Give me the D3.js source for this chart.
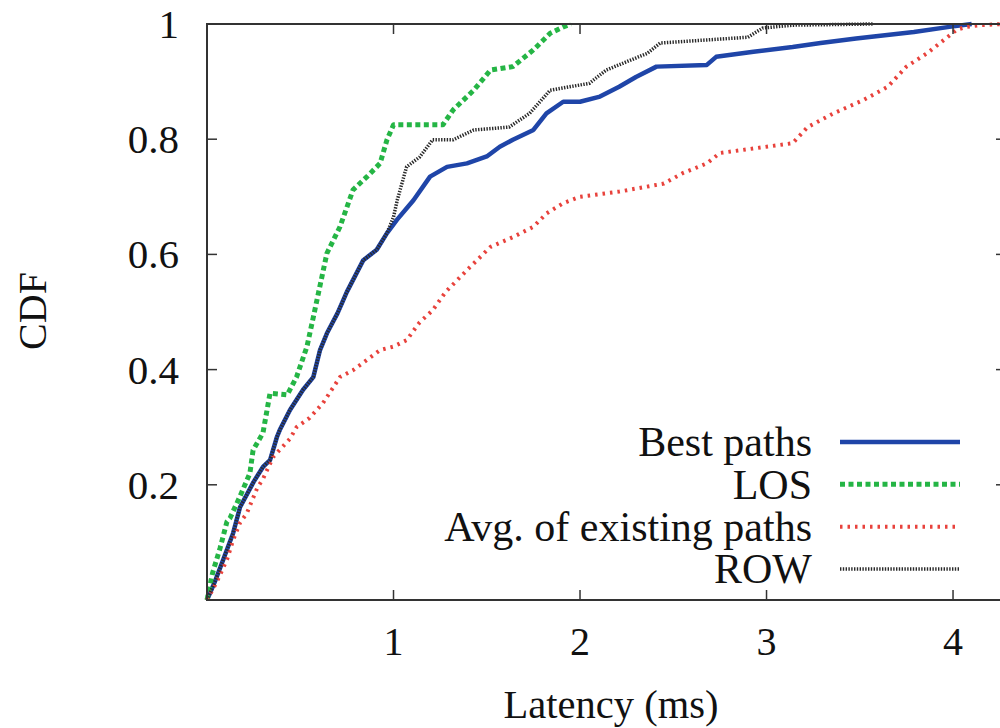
<!DOCTYPE html>
<html>
<head>
<meta charset="utf-8">
<script src="https://cdn.jsdelivr.net/npm/d3@7"></script>
<style>
  html, body { margin: 0; padding: 0; background: #fff; }
  svg text { font-family: "Liberation Serif", "DejaVu Serif", serif; fill: #111; }
</style>
</head>
<body>
<svg id="chart" width="1000" height="728"></svg>
<script>
// --- 0. Data (latency in ms, CDF) ---
const seriesNames = ["Best paths", "LOS", "Avg. of existing paths", "ROW"];

const bestPaths = [
  [0, 0], [0.04, 0.03], [0.08, 0.064], [0.14, 0.116], [0.177, 0.161], [0.25, 0.205],
  [0.3, 0.231], [0.338, 0.243], [0.375, 0.283], [0.39, 0.295], [0.445, 0.33],
  [0.515, 0.365], [0.57, 0.387], [0.606, 0.434], [0.643, 0.463], [0.7, 0.498],
  [0.75, 0.535], [0.838, 0.59], [0.91, 0.608], [0.965, 0.637], [1.018, 0.66],
  [1.107, 0.694], [1.196, 0.735], [1.287, 0.752], [1.394, 0.758], [1.5, 0.77],
  [1.57, 0.787], [1.64, 0.799], [1.75, 0.816], [1.82, 0.845], [1.91, 0.865],
  [2.0, 0.865], [2.107, 0.874], [2.21, 0.891], [2.3, 0.908], [2.41, 0.926],
  [2.68, 0.929], [2.73, 0.943], [2.93, 0.952], [3.14, 0.96], [3.29, 0.967],
  [3.48, 0.975], [3.79, 0.986], [3.98, 0.995], [4.1, 1.0]
];

const los = [
  [0, 0], [0.03, 0.047], [0.07, 0.09], [0.107, 0.136], [0.123, 0.142], [0.177, 0.18],
  [0.23, 0.22], [0.247, 0.26], [0.3, 0.29], [0.338, 0.359], [0.43, 0.356],
  [0.48, 0.387], [0.536, 0.44], [0.57, 0.491], [0.643, 0.602], [0.713, 0.648],
  [0.783, 0.712], [0.858, 0.735], [0.928, 0.758], [0.965, 0.799], [1.0, 0.825],
  [1.265, 0.825], [1.32, 0.851], [1.43, 0.885], [1.52, 0.92], [1.64, 0.926],
  [1.75, 0.955], [1.84, 0.984], [1.91, 0.995], [1.95, 1.0]
];

const avgExisting = [
  [0, 0], [0.05, 0.03], [0.107, 0.07], [0.14, 0.104], [0.177, 0.134], [0.214, 0.151],
  [0.27, 0.195], [0.3, 0.21], [0.354, 0.248], [0.445, 0.28], [0.48, 0.3],
  [0.55, 0.316], [0.622, 0.342], [0.713, 0.387], [0.783, 0.399], [0.858, 0.417],
  [0.928, 0.434], [1.0, 0.44], [1.07, 0.451], [1.14, 0.482], [1.21, 0.503],
  [1.28, 0.535], [1.41, 0.578], [1.52, 0.613], [1.64, 0.63], [1.75, 0.648],
  [1.82, 0.671], [1.91, 0.689], [2.0, 0.7], [2.21, 0.709], [2.45, 0.723],
  [2.55, 0.741], [2.68, 0.758], [2.75, 0.776], [3.14, 0.793], [3.22, 0.821],
  [3.36, 0.845], [3.52, 0.868], [3.65, 0.891], [3.75, 0.926], [3.86, 0.949],
  [3.95, 0.972], [4.02, 0.99], [4.07, 0.995], [4.14, 0.998], [4.28, 1.0]
];

const row = [
  [0, 0], [0.04, 0.03], [0.08, 0.064], [0.14, 0.116], [0.177, 0.161], [0.25, 0.205],
  [0.3, 0.231], [0.338, 0.243], [0.375, 0.283], [0.39, 0.295], [0.445, 0.33],
  [0.515, 0.365], [0.57, 0.387], [0.606, 0.434], [0.643, 0.463], [0.7, 0.498],
  [0.75, 0.535], [0.838, 0.59], [0.91, 0.608], [0.965, 0.637], [1.0, 0.665],
  [1.02, 0.694], [1.07, 0.752], [1.14, 0.769], [1.21, 0.799], [1.32, 0.799],
  [1.43, 0.816], [1.62, 0.821], [1.73, 0.845], [1.84, 0.885], [2.05, 0.897],
  [2.14, 0.92], [2.36, 0.949], [2.43, 0.967], [2.9, 0.977], [2.98, 0.993],
  [3.14, 0.998], [3.57, 1.0]
];

const xTicks = [1, 2, 3, 4];
const yTicks = [0.2, 0.4, 0.6, 0.8, 1];

// --- 1. Layout ---
const plot = { left: 207, right: 1006, top: 24, bottom: 600 };
const svg = d3.select("#chart");

const x = d3.scaleLinear().domain([0, 4.284]).range([plot.left, plot.right]);
const y = d3.scaleLinear().domain([0, 1]).range([plot.bottom, plot.top]);

// drawing order: ROW last so it sits on the blue where they overlap
const styles = [
  { data: bestPaths, color: "#1f45a8", width: 4.5, dash: null },
  { data: los, color: "#25b545", width: 5, dash: "5,3.5" },
  { data: avgExisting, color: "#e8423c", width: 4, dash: "2.5,5" },
  { data: row, color: "#2a2a2a", width: 3.5, dash: "1.4,1.4" }
];

const line = d3.line().x((d) => x(d[0])).y((d) => y(d[1]));

// --- 2. Curves ---
styles.forEach((s) => {
  svg.append("path")
    .datum(s.data)
    .attr("d", line)
    .attr("fill", "none")
    .attr("stroke", s.color)
    .attr("stroke-width", s.width)
    .attr("stroke-dasharray", s.dash)
    .attr("stroke-linejoin", "round");
});

// --- 3. Frame and ticks (gnuplot style, ticks inward, mirrored) ---
const axisColor = "#333";
svg.append("rect")
  .attr("x", plot.left).attr("y", plot.top)
  .attr("width", plot.right - plot.left).attr("height", plot.bottom - plot.top)
  .attr("fill", "none").attr("stroke", axisColor).attr("stroke-width", 2);

const tickLen = 10;
xTicks.forEach((t) => {
  svg.append("line")
    .attr("x1", x(t)).attr("x2", x(t))
    .attr("y1", plot.bottom).attr("y2", plot.bottom - tickLen)
    .attr("stroke", axisColor).attr("stroke-width", 1.5);
  svg.append("line")
    .attr("x1", x(t)).attr("x2", x(t))
    .attr("y1", plot.top).attr("y2", plot.top + tickLen)
    .attr("stroke", axisColor).attr("stroke-width", 1.5);
  svg.append("text")
    .attr("x", x(t)).attr("y", 655)
    .attr("text-anchor", "middle")
    .attr("font-size", 40)
    .text(t);
});

yTicks.forEach((t) => {
  svg.append("line")
    .attr("x1", plot.left).attr("x2", plot.left + tickLen)
    .attr("y1", y(t)).attr("y2", y(t))
    .attr("stroke", axisColor).attr("stroke-width", 1.5);
  svg.append("line")
    .attr("x1", plot.right).attr("x2", plot.right - tickLen)
    .attr("y1", y(t)).attr("y2", y(t))
    .attr("stroke", axisColor).attr("stroke-width", 1.5);
  svg.append("text")
    .attr("x", 179).attr("y", y(t))
    .attr("dy", "0.34em")
    .attr("text-anchor", "end")
    .attr("font-size", 41)
    .text(t);
});

// --- 4. Axis titles ---
svg.append("text")
  .attr("x", 611).attr("y", 718)
  .attr("text-anchor", "middle")
  .attr("font-size", 40.5)
  .text("Latency (ms)");

svg.append("text")
  .attr("transform", "translate(46,311) rotate(-90)")
  .attr("text-anchor", "middle")
  .attr("font-size", 40)
  .text("CDF");

// --- 5. Legend ---
const legendY = d3.scaleLinear().domain([0, 3]).range([442, 569]);
const legend = svg.selectAll(".legend-row")
  .data(styles)
  .enter()
  .append("g")
  .attr("class", "legend-row");

legend.append("text")
  .attr("x", 812)
  .attr("y", (d, i) => legendY(i))
  .attr("dy", "0.34em")
  .attr("text-anchor", "end")
  .attr("font-size", 42)
  .text((d, i) => seriesNames[i]);

legend.append("line")
  .attr("x1", 840).attr("x2", 960)
  .attr("y1", (d, i) => legendY(i)).attr("y2", (d, i) => legendY(i))
  .attr("stroke", (d) => d.color)
  .attr("stroke-width", (d) => d.width)
  .attr("stroke-dasharray", (d) => d.dash);
</script>
</body>
</html>
